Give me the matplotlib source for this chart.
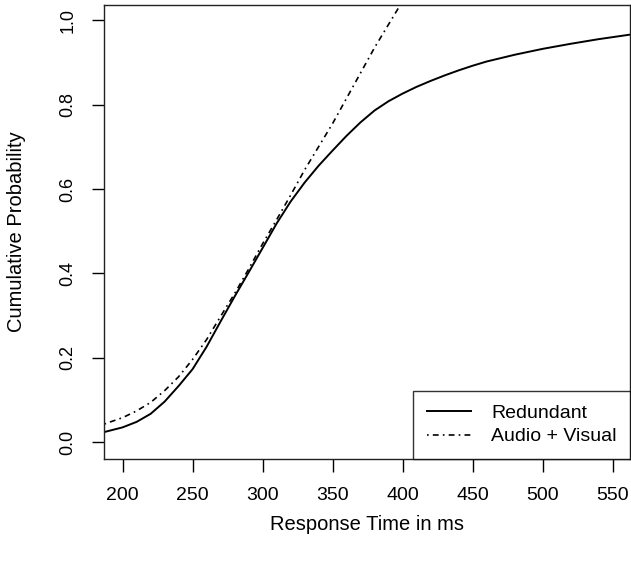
import matplotlib
matplotlib.use("Agg")
import matplotlib.pyplot as plt

plt.rcParams['font.family'] = ['Liberation Sans', 'DejaVu Sans']

# --- values ---
rt_redundant = [187, 200, 210, 220, 230, 240, 250, 260, 270, 280, 290, 300, 310, 320,
                330, 340, 350, 360, 370, 380, 390, 400, 410, 420, 430, 440, 450, 460,
                480, 500, 520, 540, 563]
p_redundant = [0.024, 0.035, 0.048, 0.067, 0.096, 0.133, 0.173, 0.226, 0.286, 0.345,
               0.402, 0.460, 0.518, 0.570, 0.615, 0.655, 0.691, 0.726, 0.758, 0.786,
               0.808, 0.826, 0.842, 0.856, 0.869, 0.881, 0.892, 0.902, 0.918, 0.932,
               0.944, 0.955, 0.966]

rt_sum = [187, 200, 210, 220, 230, 240, 250, 260, 270, 280, 290, 300, 310, 320, 330,
          340, 350, 360, 370, 380, 390, 400]
p_sum = [0.043, 0.058, 0.074, 0.094, 0.122, 0.155, 0.196, 0.243, 0.298, 0.352, 0.410,
         0.470, 0.527, 0.585, 0.645, 0.700, 0.755, 0.815, 0.875, 0.935, 0.990, 1.045]

xticks = [200, 250, 300, 350, 400, 450, 500, 550]
yticks = [0.0, 0.2, 0.4, 0.6, 0.8, 1.0]

fig = plt.figure(figsize=(6.31, 5.61), dpi=100)
ax = fig.add_axes([104 / 631, 102 / 561, 526 / 631, 454 / 561])

ax.plot(rt_redundant, p_redundant, color="black", lw=1.4, label="Redundant")
ax.plot(rt_sum, p_sum, color="black", lw=1.2, dashes=(1, 2.5, 3.5, 2.5),
        label="Audio + Visual")

ax.set_xlim(186.7, 562.5)
ax.set_ylim(-0.040, 1.036)
ax.set_xticks(xticks)
ax.set_yticks(yticks)
ax.set_yticklabels([f"{v:.1f}" for v in yticks], rotation=90, va="center")
ax.tick_params(direction="out", length=9, width=1)
ax.tick_params(axis="x", labelsize=14, pad=11)
ax.tick_params(axis="y", labelsize=13, pad=11)
for s in ax.spines.values():
    s.set_linewidth(1)
    s.set_color("#222222")

ax.set_xlabel("Response Time in ms", fontsize=14.5, labelpad=8)
ax.set_ylabel("Cumulative Probability", fontsize=14.5, labelpad=24)

leg = ax.legend(loc="lower right", fontsize=14, frameon=True, fancybox=False,
                borderaxespad=0, handlelength=2.3, borderpad=0.7, labelspacing=0.3,
                handletextpad=1.0)
leg.get_frame().set_edgecolor("black")
leg.get_frame().set_linewidth(1)

fig.savefig("out.png", dpi=100)
